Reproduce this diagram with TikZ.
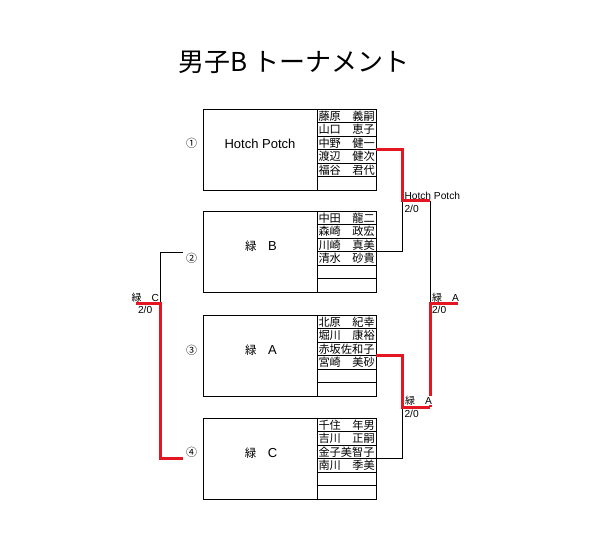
\documentclass[tikz,border=0pt]{standalone}
\usepackage{fontspec}
\setmainfont{Liberation Sans}
\newfontfamily\jp{Noto Sans CJK JP}
\definecolor{wred}{RGB}{228,22,34}
\tikzset{
  every node/.style={inner sep=0pt, outer sep=0pt},
  teambox/.style={draw=black, line width=0.9pt, anchor=north west, minimum width=173pt, minimum height=81pt},
  cell/.style={draw=black, line width=0.9pt, anchor=north west, minimum width=59pt, minimum height=13.5pt},
  nmtext/.style={font=\jp\fontsize{11.2}{12}\selectfont},
  teamlbl/.style={anchor=base, font=\fontsize{13}{15}\selectfont},
  num/.style={anchor=base, font=\jp\fontsize{11}{12}\selectfont},
  lbl/.style={anchor=base west, font=\fontsize{10.2}{12}\selectfont},
  lose/.style={draw=black, line width=0.9pt},
  win/.style={draw=wred, line width=3pt},
}
\newcommand{\jpl}[1]{{\jp\fontsize{11.5}{13}\selectfont #1}}
\newcommand{\jps}[1]{{\jp\fontsize{10}{12}\selectfont #1}}
\begin{document}
\begin{tikzpicture}[x=1pt,y=-1pt]
\useasboundingbox[fill=white] (0,0) rectangle (595,539);

% title
\node[anchor=base, font=\jp\fontsize{26}{30}\selectfont] (title) at (294,71.5) {男子B トーナメント};

% team boxes
\node[teambox] (box1) at (203,109) {};
\node[teambox] (box2) at (203,211) {};
\node[teambox] (box3) at (203,315) {};
\node[teambox] (box4) at (203,418) {};

% name cells
\foreach \T/\bx in {109/1,211/2,315/3,418/4}{
  \foreach \k in {0,...,5}{
    \node[cell] (c\bx-\k) at (317,\T+13.5*\k) {};
  }
}

% names
\foreach \fam/\giv [count=\k from 0] in {藤原/義嗣,山口/恵子,中野/健一,渡辺/健次,福谷/君代}{
  \node[nmtext, anchor=base west] (f1-\k) at (318.5,109+13.5*\k+11.3) {\fam};
  \node[nmtext, anchor=base east] (g1-\k) at (374.8,109+13.5*\k+11.3) {\giv};
}
\foreach \fam/\giv [count=\k from 0] in {中田/龍二,森崎/政宏,川崎/真美,清水/砂貴}{
  \node[nmtext, anchor=base west] (f2-\k) at (318.5,211+13.5*\k+11.3) {\fam};
  \node[nmtext, anchor=base east] (g2-\k) at (374.8,211+13.5*\k+11.3) {\giv};
}
\foreach \fam/\giv [count=\k from 0] in {北原/紀幸,堀川/康裕,赤坂佐和子/{},宮崎/美砂}{
  \node[nmtext, anchor=base west] (f3-\k) at (318.5,315+13.5*\k+11.3) {\fam};
  \node[nmtext, anchor=base east] (g3-\k) at (374.8,315+13.5*\k+11.3) {\giv};
}
\foreach \fam/\giv [count=\k from 0] in {千住/年男,吉川/正嗣,金子美智子/{},南川/季美}{
  \node[nmtext, anchor=base west] (f4-\k) at (318.5,418+13.5*\k+11.3) {\fam};
  \node[nmtext, anchor=base east] (g4-\k) at (374.8,418+13.5*\k+11.3) {\giv};
}

% team labels
\node[teamlbl] (t1) at (260,148.5) {Hotch Potch};
\node[teamlbl] (t2) at (261,250.5) {\jpl{緑　}B};
\node[teamlbl] (t3) at (261,354.5) {\jpl{緑　}A};
\node[teamlbl] (t4) at (261,457) {\jpl{緑　}C};

% numbers
\node[num] (n1) at (191.5,147.7) {①};
\node[num] (n2) at (191.5,262.2) {②};
\node[num] (n3) at (191.5,354.2) {③};
\node[num] (n4) at (191.5,456.2) {④};

% ports
\coordinate (p1) at ([yshift=-40.5pt]box1.north east);
\coordinate (p2) at ([yshift=-40.5pt]box2.north east);
\coordinate (p3) at ([yshift=-40.5pt]box3.north east);
\coordinate (p4) at ([yshift=-40.5pt]box4.north east);
\coordinate (mA) at (402.5,200.5);
\coordinate (wA) at (430,200.5);
\coordinate (mB) at (402.5,407);
\coordinate (wB) at (430,407);
\coordinate (fm) at (430,303);
\coordinate (fw) at (458,303);
\coordinate (l2) at (183,252.5);
\coordinate (l4) at (183,458.5);
\coordinate (lm) at (160,303);
\coordinate (lw) at (136,303);

% losers
\draw[lose] (p2) -| (mA);
\draw[lose] (p4) -| (mB);
\draw[lose] (wA) -- (fm);
\draw[lose] (l2) -| (lm);
% winners
\draw[win] (p1) -| (mA) -- (wA);
\draw[win] (p3) -| (mB) -- (wB);
\draw[win] (wB) -- (fm) -- (fw);
\draw[win] (l4) -| (lm) -- (lw);

% result labels
\node[lbl] (r1) at (404.5,199.5) {Hotch Potch};
\node[lbl] (s1) at (404.5,212) {2/0};
\node[lbl] (r3) at (432,301.5) {\jps{緑　}A};
\node[lbl] (s3) at (432,313.5) {2/0};
\node[lbl, fill=white, inner sep=0.6pt, text depth=0pt] (r2) at (404.5,404.8) {\jps{緑　}A};
\node[lbl] (s2) at (404.5,417.5) {2/0};
\node[lbl] (r4) at (131.5,301.5) {\jps{緑　}C};
\node[lbl] (s4) at (138,313.5) {2/0};
\end{tikzpicture}
\end{document}
